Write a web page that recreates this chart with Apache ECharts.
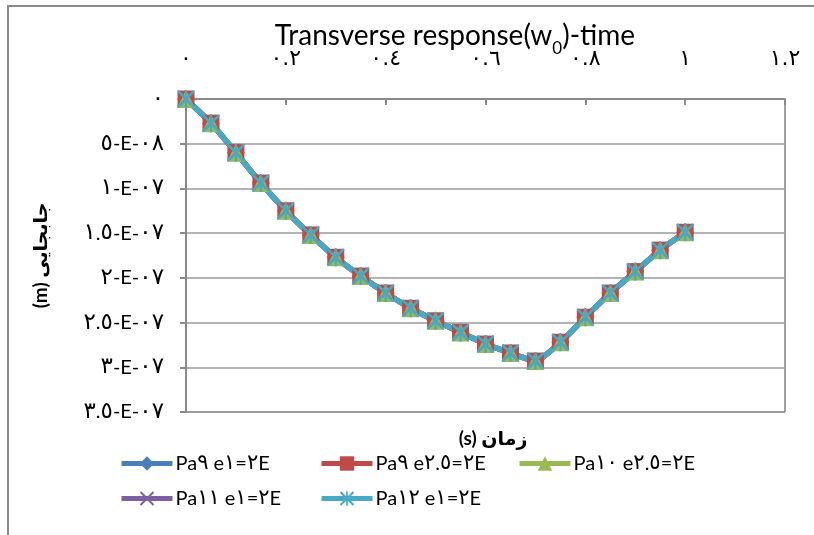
<!DOCTYPE html>
<html>
<head>
<meta charset="utf-8">
<script src="https://cdn.jsdelivr.net/npm/echarts@6/dist/echarts.min.js"></script>
<style>html,body{margin:0;padding:0;background:#fff;}#c{width:814px;height:535px;}</style>
</head>
<body>
<div id="c"></div>
<script>
// time (s)
var times = [0, 0.05, 0.1, 0.15, 0.2, 0.25, 0.3, 0.35, 0.4, 0.45, 0.5, 0.55, 0.6, 0.65, 0.7, 0.75, 0.8, 0.85, 0.9, 0.95, 1.0];
// displacement (m) for each series
var pa9e1 = [0, -2.7e-8, -6.0e-8, -9.4e-8, -1.25e-7, -1.52e-7, -1.77e-7, -1.98e-7, -2.17e-7, -2.34e-7, -2.48e-7, -2.61e-7, -2.74e-7, -2.84e-7, -2.93e-7, -2.72e-7, -2.44e-7, -2.17e-7, -1.93e-7, -1.69e-7, -1.49e-7];
var pa9e25 = [0, -2.7e-8, -6.0e-8, -9.4e-8, -1.25e-7, -1.52e-7, -1.77e-7, -1.98e-7, -2.17e-7, -2.34e-7, -2.48e-7, -2.61e-7, -2.74e-7, -2.84e-7, -2.93e-7, -2.72e-7, -2.44e-7, -2.17e-7, -1.93e-7, -1.69e-7, -1.49e-7];
var pa10e25 = [0, -2.7e-8, -6.0e-8, -9.4e-8, -1.25e-7, -1.52e-7, -1.77e-7, -1.98e-7, -2.17e-7, -2.34e-7, -2.48e-7, -2.61e-7, -2.74e-7, -2.84e-7, -2.93e-7, -2.72e-7, -2.44e-7, -2.17e-7, -1.93e-7, -1.69e-7, -1.49e-7];
var pa11e1 = [0, -2.7e-8, -6.0e-8, -9.4e-8, -1.25e-7, -1.52e-7, -1.77e-7, -1.98e-7, -2.17e-7, -2.34e-7, -2.48e-7, -2.61e-7, -2.74e-7, -2.84e-7, -2.93e-7, -2.72e-7, -2.44e-7, -2.17e-7, -1.93e-7, -1.69e-7, -1.49e-7];
var pa12e1 = [0, -2.7e-8, -6.0e-8, -9.4e-8, -1.25e-7, -1.52e-7, -1.77e-7, -1.98e-7, -2.17e-7, -2.34e-7, -2.48e-7, -2.61e-7, -2.74e-7, -2.84e-7, -2.93e-7, -2.72e-7, -2.44e-7, -2.17e-7, -1.93e-7, -1.69e-7, -1.49e-7];
var seriesNames = ['Pa٩ e١=٢E', 'Pa٩ e٢.٥=٢E', 'Pa١٠ e٢.٥=٢E', 'Pa١١ e١=٢E', 'Pa١٢ e١=٢E'];
var xTickLabels = ['٠', '٠.٢', '٠.٤', '٠.٦', '٠.٨', '١', '١.٢'];
var yTickLabels = ['٠', '٥-E-٠٨', '١-E-٠٧', '١.٥-E-٠٧', '٢-E-٠٧', '٢.٥-E-٠٧', '٣-E-٠٧', '٣.٥-E-٠٧'];
var titleMain = 'Transverse response(w';
var titleSub = '0';
var titleEnd = ')-time';
var xAxisTitle = '(s) زمان';
var yAxisTitle = '(m) جابجایی';

var FONT = 'Lato, "DejaVu Sans", sans-serif';
var DIGIT_FONT = '"DejaVu Sans", sans-serif';
var colors = ['#4A7EBB', '#BE4B48', '#98B954', '#7D60A0', '#46AAC5'];
var symbols = [
  'diamond',
  'rect',
  'triangle',
  'path://M0,1L1,0L10,9L9,10Z M9,0L10,1L1,10L0,9Z',
  'path://M0,1L1,0L10,9L9,10Z M9,0L10,1L1,10L0,9Z M4.4,0L5.6,0L5.6,10L4.4,10Z'
];
var symbolSizes = [18, 17, 18, 16, 18];
var dataArrays = [pa9e1, pa9e25, pa10e25, pa11e1, pa12e1];

// wrap runs of Arabic-Indic digits in a rich-text token (kept in written order)
function wrapDigits(s) {
  return s.replace(/([\u0660-\u0669]+)/g, '{d|$1}');
}
var digitStyle = { fontFamily: DIGIT_FONT, fontSize: 23, color: '#000' };

function pairs(arr) { return times.map(function (t, i) { return [t, arr[i]]; }); }

var series = dataArrays.map(function (arr, k) {
  return {
    name: seriesNames[k],
    type: 'line',
    data: pairs(arr),
    smooth: 0.2,
    symbol: symbols[k],
    symbolSize: symbolSizes[k],
    showSymbol: true,
    lineStyle: { color: colors[k], width: 5.5 },
    itemStyle: { color: colors[k] },
    emphasis: { disabled: true },
    animation: false
  };
});

var legendPos = [[114, 448], [314, 448], [512, 448], [114, 483], [314, 483]];
var legends = seriesNames.map(function (n, k) {
  return {
    data: [n],
    left: legendPos[k][0],
    top: legendPos[k][1],
    itemWidth: 51,
    itemHeight: 18,
    itemGap: 4,
    selectedMode: false,
    lineStyle: { width: 5 },
    formatter: function (name) { return wrapDigits(name); },
    textStyle: { fontFamily: FONT, fontSize: 20, color: '#000', padding: [0, 0, 0, -2],
      rich: { d: { fontFamily: DIGIT_FONT, fontSize: 21, color: '#000' } } }
  };
});

var chart = echarts.init(document.getElementById('c'), null, { renderer: 'canvas' });
chart.setOption({
  animation: false,
  backgroundColor: '#fff',
  title: [{
    text: '{a|' + titleMain + '}{s|' + titleSub + '}{a|' + titleEnd + '}',
    left: 450, top: 15, textAlign: 'center',
    textStyle: { fontWeight: 'normal', rich: {
      a: { fontFamily: FONT, fontSize: 28, fontWeight: 'normal', color: '#000', verticalAlign: 'bottom', lineHeight: 30 },
      s: { fontFamily: FONT, fontSize: 17, fontWeight: 'normal', color: '#000', verticalAlign: 'bottom', lineHeight: 22, padding: [0, 0, -7, 0] }
    } }
  }, {
    text: xAxisTitle,
    left: 488, top: 424, textAlign: 'center',
    textStyle: { fontFamily: FONT, fontSize: 19, fontWeight: 'bold', color: '#000' }
  }],
  legend: legends,
  graphic: [{
    type: 'rect', silent: true, z: -1,
    shape: { x: 8, y: 6, width: 900, height: 700 },
    style: { fill: 'none', stroke: '#8a8a8a', lineWidth: 2 }
  }],
  grid: { left: 186, right: 29, top: 99, bottom: 123, show: true, borderColor: '#404040', borderWidth: 1, backgroundColor: 'transparent' },
  xAxis: {
    type: 'value', position: 'top', min: 0, max: 1.2, interval: 0.2,
    axisLine: { show: true, onZero: false, lineStyle: { color: '#8a8a8a', width: 2 } },
    axisTick: { show: true, inside: true, length: 6, lineStyle: { color: '#8a8a8a', width: 2 } },
    splitLine: { show: false },
    axisLabel: {
      margin: 29, fontFamily: DIGIT_FONT, fontSize: 22, color: '#000',
      formatter: function (v) { return xTickLabels[Math.round(v / 0.2)]; }
    }
  },
  yAxis: {
    type: 'value', min: -3.5e-7, max: 0, interval: 5e-8,
    name: yAxisTitle, nameLocation: 'middle', nameGap: 136, nameRotate: 90,
    nameTextStyle: { fontFamily: FONT, fontSize: 19, fontWeight: 'bold', color: '#000' },
    axisLine: { show: true, onZero: false, lineStyle: { color: '#8a8a8a', width: 2 } },
    axisTick: { show: true, inside: false, length: 6, lineStyle: { color: '#8a8a8a', width: 2 } },
    splitLine: { show: true, lineStyle: { color: '#9a9a9a', width: 1.5 } },
    axisLabel: {
      margin: 22, fontFamily: FONT, fontSize: 20, color: '#000',
      rich: { d: digitStyle },
      formatter: function (v) { return wrapDigits(yTickLabels[Math.round(-v / 5e-8)]); }
    }
  },
  series: series
});
</script>
</body>
</html>
